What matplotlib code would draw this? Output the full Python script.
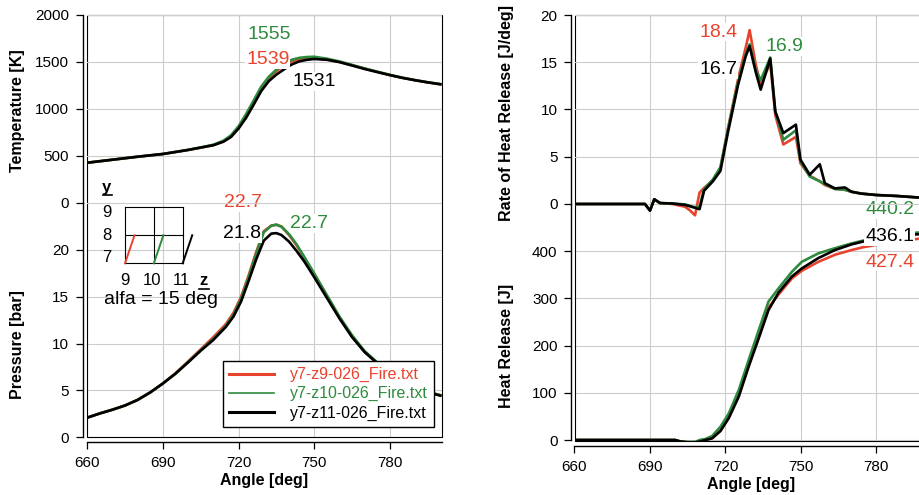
import matplotlib
matplotlib.use('Agg')
import matplotlib.pyplot as plt
from matplotlib.lines import Line2D
from matplotlib.patches import Rectangle

plt.rcParams['font.family'] = ['Liberation Sans', 'DejaVu Sans']

RED = '#e8432e'
GREEN = '#2e8b3e'
BLACK = '#000000'
names = ['y7-z9-026_Fire.txt', 'y7-z10-026_Fire.txt', 'y7-z11-026_Fire.txt']
colors = [RED, GREEN, BLACK]

# temperature [K]
ang_T = [660, 670, 680, 690, 700, 705, 710, 714, 717, 720, 723, 726, 729, 732, 735,
         738, 741, 744, 747, 750, 755, 760, 765, 770, 775, 780, 785, 790, 795, 800]
T_red = [426, 458, 490, 519, 562, 586, 614, 654, 706, 800, 925, 1070, 1218, 1328, 1402,
         1462, 1505, 1527, 1536, 1539, 1528, 1500, 1465, 1428, 1394, 1360, 1330, 1305, 1282, 1262]
T_green = [426, 458, 490, 519, 563, 588, 618, 660, 718, 815, 945, 1090, 1238, 1342, 1418,
           1478, 1522, 1543, 1552, 1555, 1535, 1505, 1468, 1430, 1396, 1362, 1332, 1306, 1284, 1264]
T_black = [426, 458, 490, 519, 562, 588, 612, 650, 700, 790, 905, 1045, 1190, 1295, 1365,
           1420, 1472, 1505, 1522, 1531, 1523, 1498, 1462, 1425, 1392, 1360, 1330, 1305, 1282, 1262]

# pressure [bar]
ang_P = [660, 665, 670, 675, 680, 685, 690, 695, 700, 705, 710, 715, 718, 721, 724, 727, 730,
         733, 735, 737, 740, 743, 746, 750, 755, 760, 765, 770, 775, 780, 785, 790, 795, 800]
P_red = [2.1, 2.55, 2.95, 3.4, 4.0, 4.8, 5.75, 6.85, 8.1, 9.4, 10.7, 12.1, 13.3, 15.0, 17.3, 19.8, 22.0,
         22.6, 22.7, 22.5, 21.6, 20.5, 19.2, 17.4, 15.1, 12.8, 10.8, 9.15, 7.95, 6.95, 6.05, 5.4, 4.85, 4.5]
P_green = [2.1, 2.55, 2.95, 3.4, 4.0, 4.8, 5.75, 6.8, 8.05, 9.3, 10.5, 11.9, 13.1, 14.8, 17.1, 19.6, 21.9,
           22.6, 22.7, 22.5, 21.7, 20.6, 19.3, 17.5, 15.2, 12.9, 10.9, 9.2, 8.0, 7.0, 6.05, 5.4, 4.85, 4.5]
P_black = [2.1, 2.55, 2.95, 3.4, 4.0, 4.8, 5.75, 6.8, 8.0, 9.25, 10.4, 11.8, 12.9, 14.5, 16.7, 19.0, 21.0,
           21.75, 21.8, 21.6, 20.9, 19.9, 18.8, 17.1, 14.9, 12.7, 10.7, 9.1, 7.9, 6.9, 6.0, 5.35, 4.8, 4.45]

# rate of heat release [J/deg]
ang_R = [660, 688, 690, 691.7, 694, 699, 704, 706, 707.9, 709.7, 711.5, 715, 718, 721, 725, 728,
         729.6, 732, 734, 737.8, 739.8, 743, 748, 749.8, 753.5, 757.5, 759.5, 763.5, 767.5, 770,
         774, 780, 788, 796, 800]
R_red = [0, 0, -0.7, 0.5, 0.1, 0.0, -0.3, -0.7, -1.2, 1.2, 1.7, 2.5, 3.8, 8.0, 13.2, 16.5,
         18.4, 14.8, 12.6, 14.9, 9.4, 6.3, 7.1, 4.3, 3.0, 2.4, 2.0, 1.6, 1.5, 1.3,
         1.1, 0.95, 0.85, 0.7, 0.65]
R_green = [0, 0, -0.7, 0.5, 0.1, 0.05, -0.05, -0.2, -0.35, -0.3, 1.6, 2.6, 3.9, 7.9, 12.9, 15.8,
           16.9, 14.2, 13.1, 15.5, 9.8, 6.8, 7.8, 4.5, 2.9, 2.4, 2.1, 1.6, 1.5, 1.3,
           1.1, 0.95, 0.85, 0.7, 0.65]
R_black = [0, 0, -0.7, 0.5, 0.1, 0.05, -0.1, -0.25, -0.4, -0.55, 1.4, 2.4, 3.5, 7.6, 12.6, 15.6,
           16.7, 14.0, 12.1, 15.4, 9.8, 7.5, 8.4, 4.7, 3.1, 4.2, 2.2, 1.65, 1.75, 1.3,
           1.1, 0.95, 0.85, 0.7, 0.65]

# heat release [J]
ang_H = [660, 700, 702, 705, 708, 710, 712, 714.7, 718, 721.3, 725.3, 729.2, 733.2, 737.1,
         741.1, 746.4, 750.3, 756.9, 763.5, 770.1, 774.7, 780, 785, 790, 795, 800]
H_red = [0, 0, -3, -5, -6, -4, 0, 4, 20, 48, 96, 158, 218, 280,
         308, 342, 358, 377, 392, 402, 408, 413, 418, 422, 425, 427.4]
H_green = [0, 0, -3, -4, -4, 0.5, 2, 8.5, 28, 56, 106, 169, 232, 293,
           321, 356, 377, 395, 406, 416, 422, 428, 432, 436, 438.5, 440.2]
H_black = [0, 0, -3, -5, -5, -3, 0, 3.5, 19, 46, 92, 155, 215, 275,
           312, 346, 363, 385, 402, 414, 420, 425, 429, 432, 435, 436.1]

W, H = 920, 495
fig = plt.figure(figsize=(W / 100, H / 100), dpi=100)


def rect(l, t, r, b):
    return [l / W, 1 - b / H, (r - l) / W, (b - t) / H]


def style_y(ax, ticks, bounds, off):
    ax.set_yticks(ticks)
    for s in ['top', 'right']:
        ax.spines[s].set_visible(False)
    ax.spines['left'].set_bounds(*bounds)
    ax.spines['left'].set_position(('outward', off))
    ax.spines['left'].set_linewidth(1.0)
    ax.tick_params(axis='y', direction='out', length=5, width=0.9, pad=5, labelsize=11)
    ax.grid(axis='y', color='#cccccc', lw=0.8)


def make_panel(box, lo_lim, hi_lim, lo_ticks, hi_ticks, lo_bounds, hi_bounds, off):
    lo = fig.add_axes(rect(*box))
    hi = fig.add_axes(rect(*box), sharex=lo)
    lo.set_xlim(660, 800.5)
    lo.set_ylim(*lo_lim)
    hi.set_ylim(*hi_lim)
    style_y(lo, lo_ticks, lo_bounds, off)
    style_y(hi, hi_ticks, hi_bounds, off)
    lo.set_xticks([660, 690, 720, 750, 780])
    lo.spines['bottom'].set_position(('outward', 3.6))
    lo.spines['bottom'].set_linewidth(1.0)
    lo.tick_params(axis='x', direction='out', length=5, width=0.9, pad=5, labelsize=11)
    lo.grid(axis='x', color='#cccccc', lw=0.8)
    lo.set_xlabel('Angle [deg]', fontsize=11.5, fontweight='bold', labelpad=2)
    hi.patch.set_visible(False)
    hi.spines['bottom'].set_visible(False)
    hi.tick_params(axis='x', bottom=False, labelbottom=False)
    lo.add_patch(Rectangle((0, 0), 1, 1, transform=lo.transAxes, fill=False,
                           ec='black', lw=0.8, clip_on=False, zorder=3))
    return lo, hi


def label(ax, x, y, s, c):
    ax.text(x, y, s, color=c, fontsize=14, ha='center', va='center', zorder=6,
            bbox=dict(boxstyle='square,pad=0.05', fc='white', ec='none'))


# left panel: temperature over pressure
ax_p, ax_t = make_panel((87.3, 15, 441.5, 437.3), (0, 45.09), (-2500, 2000),
                        [0, 5, 10, 15, 20], [0, 500, 1000, 1500, 2000],
                        (0, 25), (0, 2000), 3.3)
for y, c in zip([P_red, P_green, P_black], colors):
    ax_p.plot(ang_P, y, color=c, lw=1.9)
for y, c in zip([T_red, T_green, T_black], colors):
    ax_t.plot(ang_T, y, color=c, lw=1.9)
label(ax_t, 732.0, 1787, '1555', GREEN)
label(ax_t, 731.6, 1521, '1539', RED)
label(ax_t, 749.9, 1287, '1531', BLACK)
label(ax_p, 721.7, 25.1, '22.7', RED)
label(ax_p, 721.3, 21.8, '21.8', BLACK)
label(ax_p, 747.9, 22.8, '22.7', GREEN)

# right panel: rate of heat release over heat release
ax_h, ax_r = make_panel((574.5, 15, 928, 441), (-2.1, 899.5), (-25.08, 20),
                        [0, 100, 200, 300, 400], [0, 5, 10, 15, 20],
                        (0, 500), (0, 20), 2.2)
for y, c in zip([H_red, H_green, H_black], colors):
    ax_h.plot(ang_H, y, color=c, lw=1.9)
for y, c in zip([R_red, R_green, R_black], colors):
    ax_r.plot(ang_R, y, color=c, lw=1.9)
label(ax_r, 717.1, 18.2, '18.4', RED)
label(ax_r, 743.3, 16.7, '16.9', GREEN)
label(ax_r, 717.1, 14.2, '16.7', BLACK)
label(ax_h, 785.3, 486.8, '440.2', GREEN)
label(ax_h, 785.3, 431.7, '436.1', BLACK)
label(ax_h, 785.3, 376.7, '427.4', RED)

# y axis titles
for x, y, s in [(18, 111, 'Temperature [K]'), (18, 345, 'Pressure [bar]'),
                (507, 113, 'Rate of Heat Release [J/deg]'), (507, 346, 'Heat Release [J]')]:
    fig.text(x / W, 1 - y / H, s, rotation=90, ha='center', va='center',
             fontsize=11.5, fontweight='bold')

# wall position sketch
ax_in = fig.add_axes(rect(125, 207.3, 182.7, 263.3))
ax_in.set_xlim(9, 11)
ax_in.set_ylim(7, 9)
ax_in.axis('off')
for v in [9, 10, 11]:
    ax_in.plot([v, v], [7, 9], color='black', lw=0.8, clip_on=False)
for v in [7, 8, 9]:
    ax_in.plot([9, 11], [v, v], color='black', lw=0.8, clip_on=False)
for z, c in zip([9, 10, 11], colors):
    ax_in.plot([z, z + 0.33], [7, 8], color=c, lw=1.4, clip_on=False)
for yy, s in [(8.8, '9'), (8.01, '8'), (7.22, '7')]:
    ax_in.text(8.375, yy, s, fontsize=12, ha='center', va='center')
for zz, s in [(9, '9'), (9.94, '10'), (10.94, '11')]:
    ax_in.text(zz, 6.40, s, fontsize=12, ha='center', va='center')
ax_in.text(8.375, 9.69, 'y', fontsize=12, fontweight='bold', ha='center', va='center')
ax_in.plot([8.24, 8.55], [9.44, 9.44], color='black', lw=1.2, clip_on=False)
ax_in.text(11.72, 6.40, 'z', fontsize=12, fontweight='bold', ha='center', va='center')
ax_in.plot([11.57, 11.92], [6.08, 6.08], color='black', lw=1.2, clip_on=False)
ax_in.text(10.25, 5.69, 'alfa = 15 deg', fontsize=14, ha='center', va='center')

handles = [Line2D([], [], color=RED, lw=2.2), Line2D([], [], color=GREEN, lw=1.2),
           Line2D([], [], color=BLACK, lw=2.2)]
leg = fig.legend(handles, names, loc='lower right', bbox_to_anchor=(434 / W, 1 - 427 / H),
                 frameon=True, fancybox=False, edgecolor='black', fontsize=11.5,
                 handlelength=2.8, handletextpad=1.0, labelspacing=0.25, borderpad=0.4,
                 borderaxespad=0, framealpha=1)
leg.get_frame().set_linewidth(1.0)
for t, c in zip(leg.get_texts(), colors):
    t.set_color(c)

fig.savefig('out.png', dpi=100)
